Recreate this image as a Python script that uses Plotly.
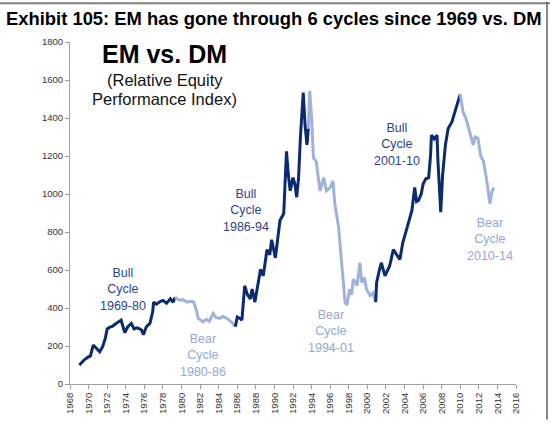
import plotly.graph_objects as go

# Relative equity performance index (EM vs DM)
years = [
    1969.0, 1969.3, 1969.6, 1969.9, 1970.2, 1970.5, 1970.7, 1971.0, 1971.2, 1971.5,
    1971.8, 1972.0, 1972.3, 1972.6, 1972.9, 1973.2, 1973.5, 1973.7, 1973.9, 1974.2,
    1974.6, 1974.9, 1975.2, 1975.5, 1975.7, 1975.9, 1976.2, 1976.6, 1976.9, 1977.0,
    1977.3, 1977.7, 1978.0, 1978.4, 1978.8, 1979.1, 1979.3,
    1979.6, 1979.8, 1980.1, 1980.6, 1981.0, 1981.3, 1981.6, 1981.8, 1982.1, 1982.3,
    1982.7, 1983.0, 1983.4, 1983.7, 1984.1, 1984.5, 1984.9, 1985.3, 1985.8,
    1986.0, 1986.3, 1986.5, 1986.8, 1987.1, 1987.4, 1987.6, 1987.9, 1988.2, 1988.5,
    1988.8, 1989.0, 1989.2, 1989.5, 1989.7, 1990.1, 1990.4, 1990.6, 1991.0, 1991.2,
    1991.3, 1991.5, 1991.7, 1992.0, 1992.2, 1992.4, 1992.6, 1992.8, 1993.1, 1993.3,
    1993.5, 1993.65,
    1993.8, 1994.0, 1994.2, 1994.5, 1994.9, 1995.1, 1995.3, 1995.6, 1996.0, 1996.3,
    1996.5, 1996.9, 1997.2, 1997.4, 1997.6, 1997.8, 1998.1, 1998.3, 1998.5, 1998.9,
    1999.2, 1999.4, 1999.7, 1999.9, 2000.3, 2000.6, 2000.9,
    2001.0, 2001.3, 2001.5, 2001.9, 2002.2, 2002.4, 2002.8, 2003.0, 2003.5, 2003.8,
    2004.2, 2004.5, 2004.8, 2005.1, 2005.3, 2005.5, 2005.8, 2006.0, 2006.3, 2006.6,
    2006.8, 2006.9, 2007.2, 2007.5, 2007.6, 2007.9, 2008.1, 2008.4, 2008.7, 2009.1,
    2009.4, 2009.8, 2010.0,
    2010.3, 2010.6, 2010.9, 2011.1, 2011.4, 2011.6, 2011.9, 2012.2, 2012.5, 2012.8,
    2013.0, 2013.2, 2013.4, 2013.6,
]
index_values = [
    100, 118, 130, 140, 148, 205, 195, 180, 170, 195,
    240, 290, 300, 305, 318, 327, 336, 300, 270, 300,
    319, 290, 295, 290, 284, 259, 300, 319, 380, 431,
    420, 434, 440, 425, 448, 430, 457,
    445, 440, 445, 431, 435, 431, 390, 345, 335, 327,
    340, 330, 371, 350, 345, 355, 345, 330, 302,
    353, 345, 336, 517, 470, 448, 500, 431, 520, 603,
    569, 650, 707, 680, 759, 664, 780, 862, 896, 1100,
    1224, 1100, 1017, 1086, 1052, 983, 1086, 1300, 1534, 1362,
    1258, 1345,
    1543, 1400, 1190, 1172, 1017, 1050, 1086, 1017, 1034, 1069,
    948, 828, 638, 520, 431, 414, 500, 470, 552, 517,
    638, 534, 560, 500, 466, 480, 431,
    534, 600, 638, 569, 600, 621, 707, 690, 655, 740,
    810, 850, 914, 1034, 960, 966, 1000, 1052, 1080, 1086,
    1200, 1310, 1290, 1310, 1172, 905, 1100, 1258, 1345, 1379,
    1431, 1500, 1526,
    1431, 1400, 1345, 1300, 1258, 1300, 1293, 1200, 1172, 1086,
    1000, 948, 1010, 1034,
]

# Cycle boundaries (start, end, phase)
cycle_starts = [1969.0, 1979.3, 1985.8, 1993.65, 2000.9, 2010.0]
cycle_ends = [1979.3, 1985.8, 1993.65, 2000.9, 2010.0, 2013.6]
cycle_phase = ["Bull", "Bear", "Bull", "Bear", "Bull", "Bear"]
cycle_labels = ["Bull<br>Cycle<br>1969-80", "Bear<br>Cycle<br>1980-86", "Bull<br>Cycle<br>1986-94",
                "Bear<br>Cycle<br>1994-01", "Bull<br>Cycle<br>2001-10", "Bear<br>Cycle<br>2010-14"]
label_x = [1973.7, 1982.3, 1986.9, 1996.1, 2003.2, 2013.2]
label_y = [495, 150, 915, 275, 1262, 760]

x_ticks = list(range(1968, 2017, 2))
y_ticks = list(range(0, 1801, 200))

LINE_COLOR = {"Bull": "#0c2a6e", "Bear": "#9fb2da"}
TEXT_COLOR = {"Bull": "#2c4388", "Bear": "#93a8d4"}
FONT = "Liberation Sans, Arial"

fig = go.Figure()
for s, e, ph in zip(cycle_starts, cycle_ends, cycle_phase):
    xs = [x for x in years if s <= x <= e]
    ys = [v for x, v in zip(years, index_values) if s <= x <= e]
    fig.add_trace(go.Scatter(x=xs, y=ys, mode="lines",
                             line=dict(color=LINE_COLOR[ph], width=3),
                             showlegend=False, hoverinfo="skip"))

for lab, lx, ly, ph in zip(cycle_labels, label_x, label_y, cycle_phase):
    fig.add_annotation(x=lx, y=ly, xref="x", yref="y", text=lab, showarrow=False,
                       font=dict(family=FONT, size=12.5, color=TEXT_COLOR[ph]),
                       align="center")

fig.add_annotation(x=1978.2, y=1736, xref="x", yref="y", text="<b>EM vs. DM</b>", showarrow=False,
                   font=dict(family=FONT, size=25, color="#000000"))
fig.add_annotation(x=1978.2, y=1598, xref="x", yref="y", text="(Relative Equity", showarrow=False,
                   font=dict(family=FONT, size=16.5, color="#111111"))
fig.add_annotation(x=1978.2, y=1500, xref="x", yref="y", text="Performance Index)", showarrow=False,
                   font=dict(family=FONT, size=16.5, color="#111111"))

fig.add_annotation(x=-66 / 446, y=1 + 24 / 348, xref="paper", yref="paper",
                   text="<b>Exhibit 105: EM has gone through 6 cycles since 1969 vs. DM</b>",
                   showarrow=False, xanchor="left", yanchor="middle",
                   font=dict(family=FONT, size=18.4, color="#000000"))

fig.update_layout(
    width=550, height=426,
    margin=dict(l=70, r=34, t=42, b=36),
    paper_bgcolor="white", plot_bgcolor="white",
    xaxis=dict(range=[1968, 2016], tickvals=x_ticks, ticktext=[str(t) for t in x_ticks],
               tickangle=-90, ticks="outside", ticklen=4, tickcolor="#999999",
               showline=True, linecolor="#a0a0a0", linewidth=1, showgrid=False, zeroline=False,
               tickfont=dict(family=FONT, size=9.5, color="#333333")),
    yaxis=dict(range=[0, 1800], tickvals=y_ticks, ticks="outside", ticklen=4, tickcolor="#999999",
               showline=True, linecolor="#a0a0a0", linewidth=1, showgrid=False, zeroline=False,
               tickfont=dict(family=FONT, size=9.5, color="#333333")),
)

# Frame lines (top and right)
fig.add_shape(type="line", xref="paper", yref="paper", x0=-70 / 446, x1=480 / 446,
              y0=1 + 39.5 / 348, y1=1 + 39.5 / 348, line=dict(color="#808080", width=2))
fig.add_shape(type="line", xref="paper", yref="paper", x0=477 / 446, x1=477 / 446,
              y0=-36 / 348, y1=1 + 41 / 348, line=dict(color="#606060", width=1.5))

fig.write_html("out.html", config={"displayModeBar": False},
               post_script="document.body.style.margin='0px';")
